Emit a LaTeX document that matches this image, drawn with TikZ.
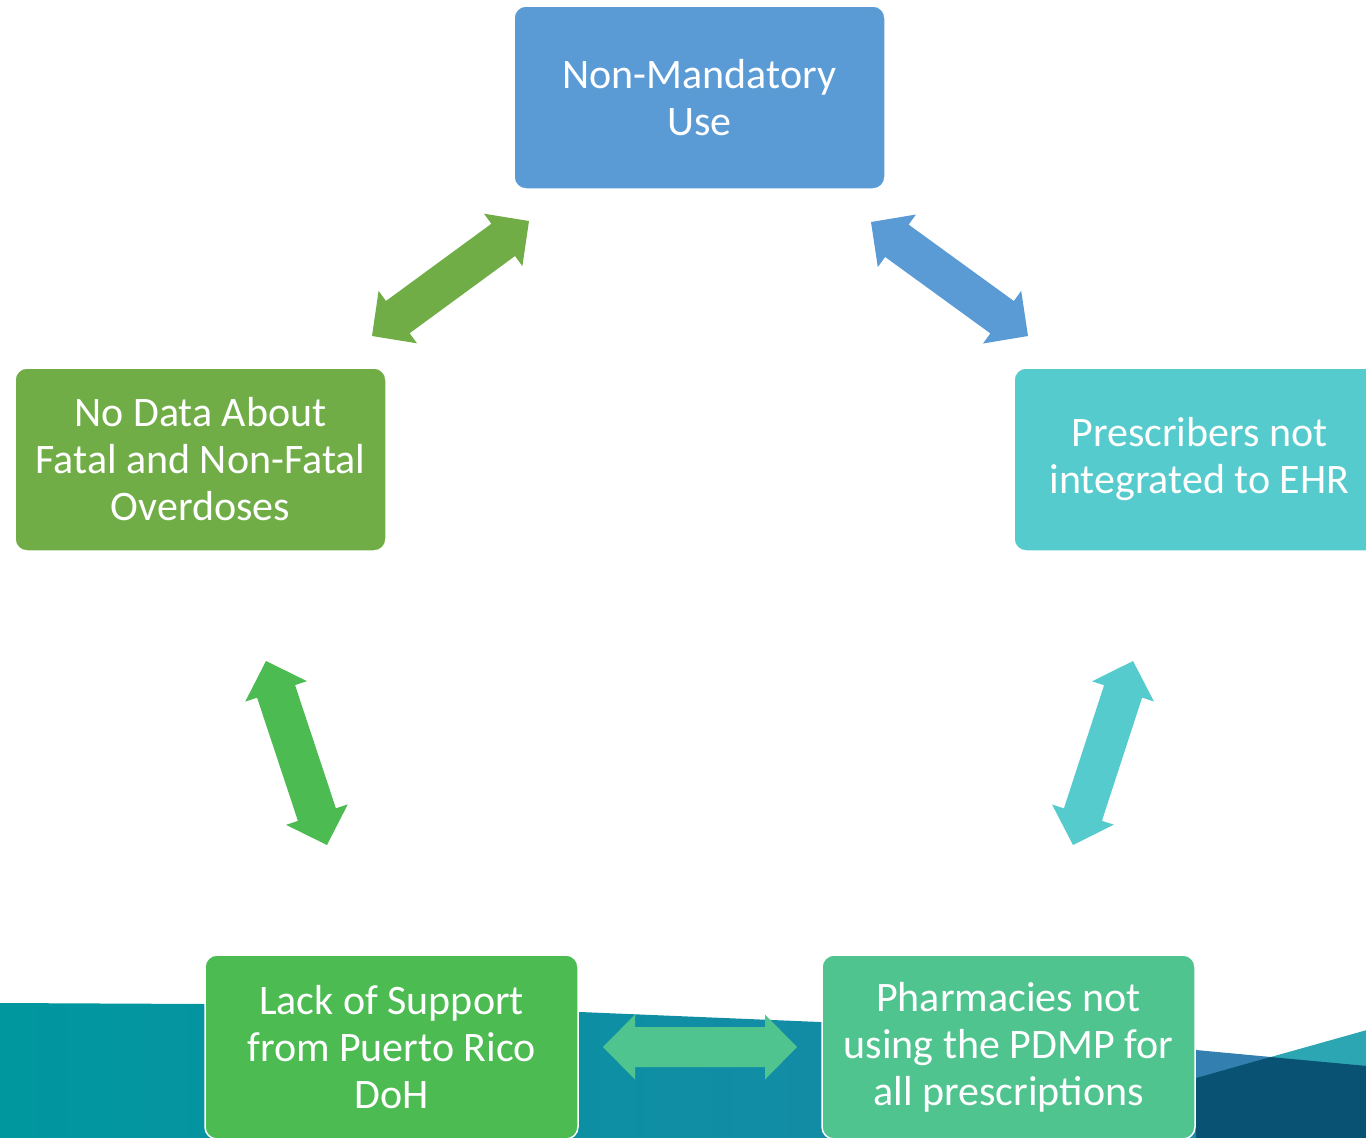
\documentclass[tikz,border=0pt]{standalone}
\usepackage{fontspec}
\setmainfont{Carlito}
\usetikzlibrary{calc}
\definecolor{cblue}{HTML}{5B9BD5}
\definecolor{cgreen}{HTML}{70AD47}
\definecolor{ccyan}{HTML}{55CBCD}
\definecolor{cgreenb}{HTML}{4CBB51}
\definecolor{cmint}{HTML}{50C48F}
\definecolor{bgteal}{HTML}{00979F}
\definecolor{bgteal2}{HTML}{1B87A8}
\definecolor{bgblue}{HTML}{3380B0}
\definecolor{bglteal}{HTML}{2BA6B2}
\definecolor{bgnavy}{HTML}{0A5273}
\tikzset{
  box/.style={draw=white, line width=1.5pt, rounded corners=12pt, minimum width=371pt,
    minimum height=183pt, inner sep=0pt, align=center, text=white,
    font=\fontsize{42}{47}\selectfont},
}
\newcommand\blockarr[3]{%
  \coordinate (#2h) at ($(#2)!32pt!(#3)$);
  \coordinate (#3h) at ($(#3)!32pt!(#2)$);
  \fill[#1] (#2) -- ($(#2h)!32.5pt!90:(#3)$) -- ($(#2h)!20pt!90:(#3)$)
    -- ($(#3h)!20pt!-90:(#2)$) -- ($(#3h)!32.5pt!-90:(#2)$) -- (#3)
    -- ($(#3h)!32.5pt!90:(#2)$) -- ($(#3h)!20pt!90:(#2)$)
    -- ($(#2h)!20pt!-90:(#3)$) -- ($(#2h)!32.5pt!-90:(#3)$) -- cycle;
}
\begin{document}
\begin{tikzpicture}[x=1pt,y=-1pt]
\useasboundingbox (0,0) rectangle (1366,1138);
\clip (0,0) rectangle (1366,1138);
% background wave
\shade[left color=bgteal, right color=bgteal2]
  (0,1003) -- (205,1004) -- (580,1012) -- (820,1022) -- (1197,1050) -- (1197,1140) -- (0,1140) -- cycle;
\fill[bgblue] (1196,1050) -- (1367,1066) -- (1367,1140) -- (1196,1140) -- cycle;
\fill[bglteal] (1196,1078) -- (1367,1030) -- (1367,1140) -- (1196,1140) -- cycle;
\fill[bgnavy] (1196,1078) -- (1270.4,1057) -- (1367,1066) -- (1367,1140) -- (1196,1140) -- cycle;
% boxes
\node[box, fill=cblue] (top) at (699.5,97.5) {Non-Mandatory\\Use};
\node[box, fill=cgreen] (left) at (200.5,459.5) {No Data About\\Fatal and Non-Fatal\\Overdoses};
\node[box, fill=ccyan] (right) at (1199.5,459.5) {Prescribers not\\integrated to EHR};
\node[box, fill=cgreenb, minimum width=373pt, minimum height=184pt] (lack) at (391.5,1047) {Lack of Support\\from Puerto Rico\\DoH};
\node[box, fill=cmint, minimum width=373pt, minimum height=184pt] (pharm) at (1008.5,1047) {Pharmacies not\\using the PDMP for\\all prescriptions};
% arrow end points
\coordinate (a1) at (529,221); \coordinate (b1) at (372,336);
\coordinate (a2) at (871,222); \coordinate (b2) at (1028,336);
\coordinate (a3) at (266,661); \coordinate (b3) at (327,845);
\coordinate (a4) at (1133,661); \coordinate (b4) at (1073,845);
\coordinate (a5) at (603,1047); \coordinate (b5) at (797,1047);
\blockarr{cgreen}{a1}{b1}
\blockarr{cblue}{a2}{b2}
\blockarr{cgreenb}{a3}{b3}
\blockarr{ccyan}{a4}{b4}
\blockarr{cmint}{a5}{b5}
\end{tikzpicture}
\end{document}
